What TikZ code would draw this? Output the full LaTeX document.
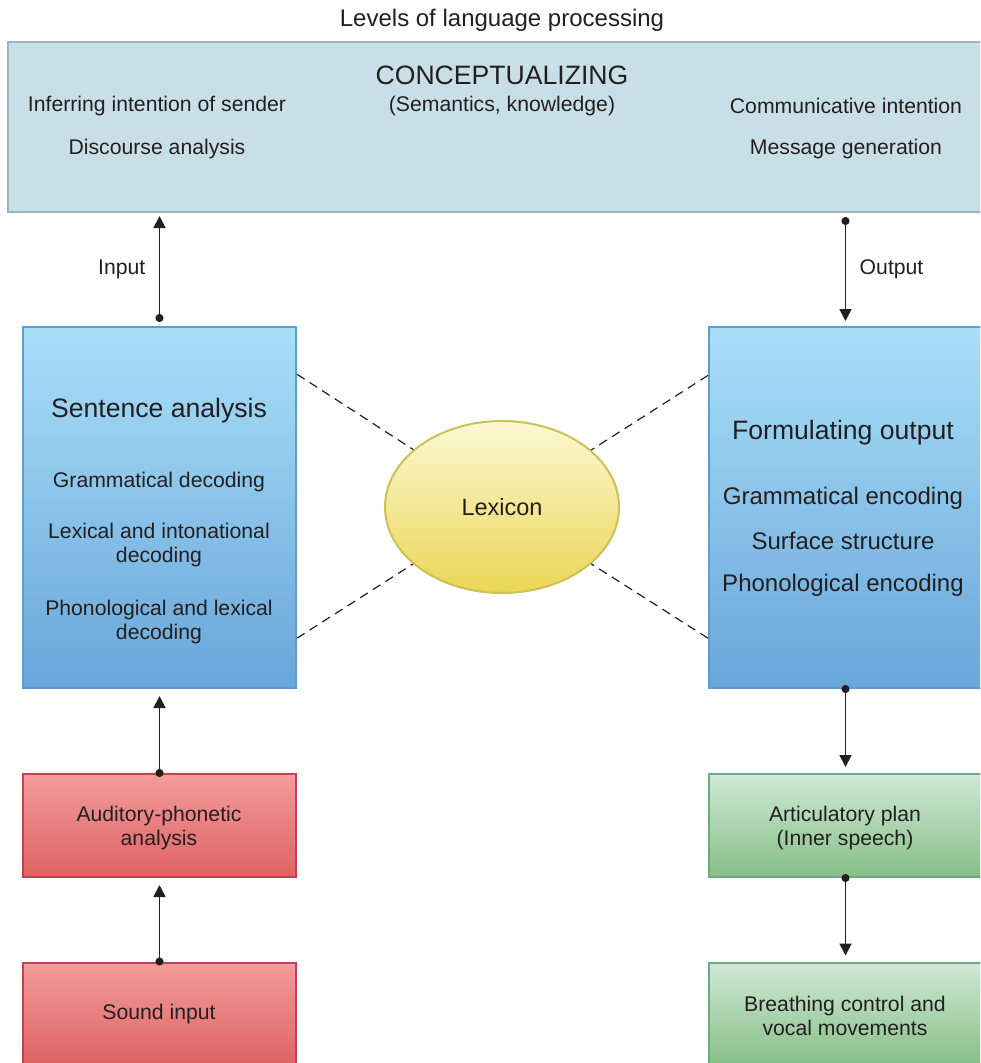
\documentclass[tikz,border=0pt]{standalone}
\usepackage{fontspec}
\setmainfont{Liberation Sans}
\usetikzlibrary{arrows.meta,positioning,calc,shapes.geometric}

\definecolor{conceptfill}{HTML}{C9DFE8}
\definecolor{conceptline}{HTML}{A2B2BA}
\definecolor{bluetop}{HTML}{A9DFF8}
\definecolor{bluebot}{HTML}{69A6DA}
\definecolor{blueline}{HTML}{5E9CD2}
\definecolor{redtop}{HTML}{F39C9C}
\definecolor{redbot}{HTML}{DF6262}
\definecolor{redline}{HTML}{C8404F}
\definecolor{greentop}{HTML}{CFE9D6}
\definecolor{greenbot}{HTML}{86BF86}
\definecolor{greenline}{HTML}{6CAA84}
\definecolor{lextop}{HTML}{FCF8D3}
\definecolor{lexbot}{HTML}{EBD656}
\definecolor{lexline}{HTML}{C9C257}
\definecolor{ink}{HTML}{231F20}

\newcommand{\txt}{\fontsize{21.2}{24.5}\selectfont}
\newcommand{\midtxt}{\fontsize{24}{28}\selectfont}
\newcommand{\bigtxt}{\fontsize{26.6}{30}\selectfont}

\tikzset{
  stage/.style={draw, line width=2pt, minimum width=273pt, inner sep=0pt},
  analysis/.style={stage, draw=blueline, top color=bluetop, bottom color=bluebot, minimum height=361pt},
  hearing/.style={stage, draw=redline, top color=redtop, bottom color=redbot, minimum height=103pt},
  speaking/.style={stage, draw=greenline, top color=greentop, bottom color=greenbot, minimum height=103pt},
  lbl/.style={text=ink, font=\txt, align=center},
  dotflow/.style={{Circle[length=8pt]}-{Triangle[width=12pt,length=12pt]}, line width=1.8pt, draw=ink},
  link/.style={dashed, dash pattern=on 9pt off 6pt, line width=1.2pt, draw=ink}
}

\begin{document}
\begin{tikzpicture}[x=1pt, y=-1pt]
\useasboundingbox (0,0) rectangle (980,1063);
\clip (0,0) rectangle (980,1063);

% conceptual level
\node[lbl, font=\midtxt] (title) at (502,20) {Levels of language processing};
\node[draw=conceptline, fill=conceptfill, line width=2pt, minimum width=988pt, minimum height=170pt] (concept) at (502,127) {};
\node[lbl, font=\bigtxt] (conc) at (502,75) {CONCEPTUALIZING};
\node[lbl] (sem) at (502,106) {(Semantics, knowledge)};
\node[lbl] (infer) at (157,106) {Inferring intention of sender};
\node[lbl] (disc) at (157,149) {Discourse analysis};
\node[lbl] (comm) at (846,106) {Communicative intention};
\node[lbl] (mess) at (846,149) {Message generation};

% comprehension side
\node[analysis] (sentence) at (159.5,507.5) {};
\node[lbl, font=\bigtxt] at (159,411) {Sentence analysis};
\node[lbl] at (159,482) {Grammatical decoding};
\node[lbl] at (159,545) {Lexical and intonational\\decoding};
\node[lbl] at (159,622) {Phonological and lexical\\decoding};

\node[hearing] (auditory) at (159.5,825.5) {};
\node[lbl] at (159,828) {Auditory-phonetic\\analysis};
\node[hearing] (sound) at (159.5,1014) {};
\node[lbl] at (159,1014) {Sound input};

% production side
\node[analysis] (formulating) at (845.5,507.5) {};
\node[lbl, font=\bigtxt] at (843,433) {Formulating output};
\node[lbl, font=\midtxt] at (843,498) {Grammatical encoding};
\node[lbl, font=\midtxt] at (843,541) {Surface structure};
\node[lbl, font=\midtxt] at (843,585) {Phonological encoding};

\node[speaking] (artic) at (845.5,825.5) {};
\node[lbl] at (845,828) {Articulatory plan\\(Inner speech)};
\node[speaking] (breathing) at (845.5,1014) {};
\node[lbl] at (845,1016) {Breathing control and\\vocal movements};

% lexicon in the middle
\node[ellipse, draw=lexline, line width=2pt, top color=lextop, bottom color=lexbot,
      minimum width=234pt, minimum height=172pt, lbl, font=\fontsize{23.5}{27}\selectfont] (lexicon) at (502,507) {Lexicon};

\coordinate (sa1) at ($(sentence.north east)!0.133!(sentence.south east)$);
\coordinate (sa2) at ($(sentence.north east)!0.86!(sentence.south east)$);
\coordinate (fo1) at ($(formulating.north west)!0.136!(formulating.south west)$);
\coordinate (fo2) at ($(formulating.north west)!0.86!(formulating.south west)$);
\draw[link] (sa1) -- (lexicon);
\draw[link] (sa2) -- (lexicon);
\draw[link] (fo1) -- (lexicon);
\draw[link] (fo2) -- (lexicon);

% arrows
\draw[dotflow, shorten <=4pt, shorten >=3pt] (sentence.north) -- (sentence.north |- concept.south)
  node[midway, left=10pt, lbl] {Input};
\draw[dotflow, shorten <=4pt, shorten >=5pt] (concept.south -| formulating.north) -- (formulating.north)
  node[midway, right=10pt, lbl] {Output};
\draw[dotflow, shorten <=-4pt, shorten >=7pt] (auditory.north) -- (sentence.south);
\draw[dotflow, shorten <=-4pt, shorten >=7pt] (sound.north) -- (auditory.south);
\draw[dotflow, shorten <=-4pt, shorten >=6pt] (formulating.south) -- (artic.north);
\draw[dotflow, shorten <=-4pt, shorten >=6pt] (artic.south) -- (breathing.north);
\end{tikzpicture}
\end{document}
